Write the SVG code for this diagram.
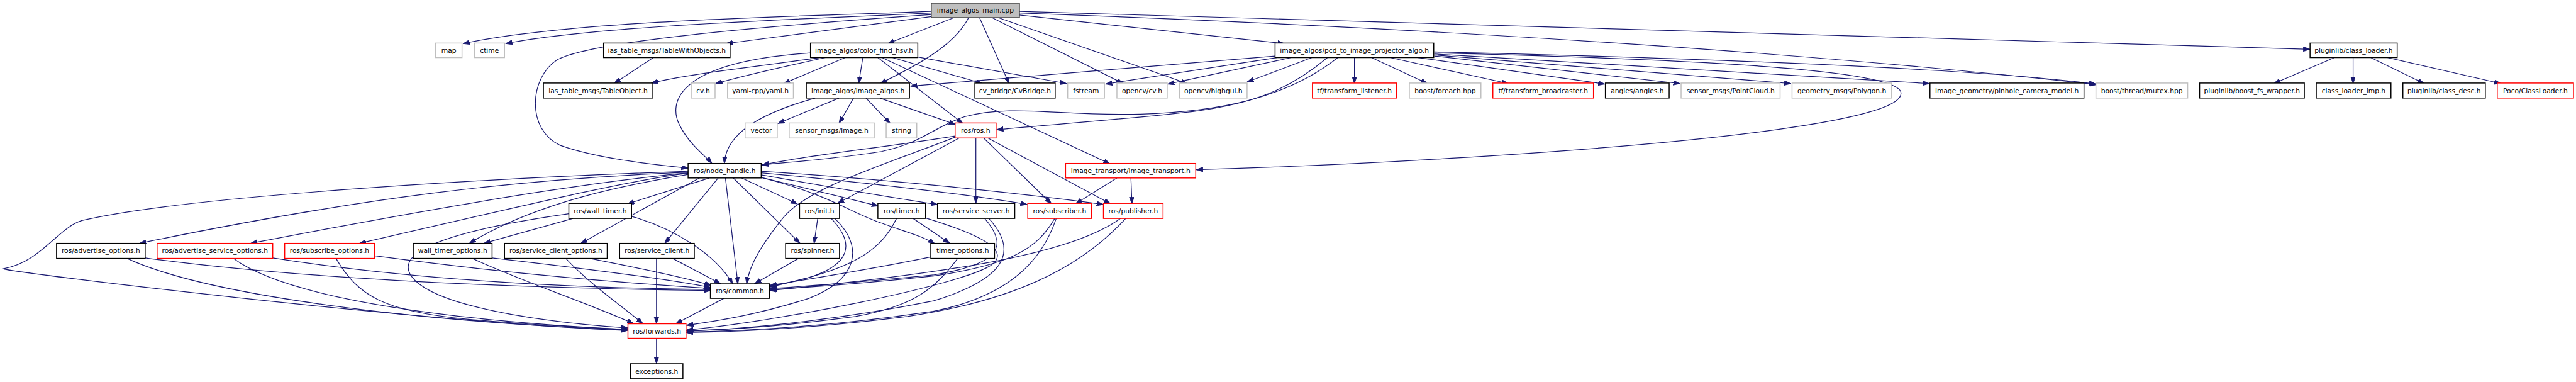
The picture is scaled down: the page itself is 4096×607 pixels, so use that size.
<svg xmlns="http://www.w3.org/2000/svg" width="4096" height="607" viewBox="0 0 4096 607">
<style>
.e{fill:none;stroke:#191970;stroke-width:1.5;marker-end:url(#ah)}
.n rect{fill:#fff;stroke-width:1.8}
.b rect{stroke:#000}
.r rect{stroke:#ff0000}
.g rect{stroke:#bfbfbf}
.m rect{fill:#bfbfbf;stroke:#404040}
text{font-family:"DejaVu Sans","Liberation Sans",sans-serif;font-size:13px;text-anchor:middle;fill:#000}
</style>
<defs>
<marker id="ah" markerUnits="userSpaceOnUse" markerWidth="14" markerHeight="10" refX="13" refY="4.5" orient="auto"><path d="M0,0 L13,4.5 L0,9 z" fill="#191970" stroke="#191970" stroke-width="1"/></marker>
</defs>
<rect width="4096" height="607" fill="#fff"/>
<g transform="scale(0.8245)">
<g id="connectors">
<path class="e" d="M1796,22 C1500,33 1100,40 893,84"/>
<path class="e" d="M1796,25 C1520,38 1150,50 975,84"/>
<path class="e" d="M1796,28 C1450,52 1140,80 1075,115 C1020,150 1015,250 1080,280 C1150,305 1250,316 1327,324"/>
<path class="e" d="M1796,32 L1400,84"/>
<path class="e" d="M1840,34 L1712,84"/>
<path class="e" d="M1868,34 C1840,90 1760,130 1697,161"/>
<path class="e" d="M1889,34 L1946,161"/>
<path class="e" d="M1913,34 L2166,161"/>
<path class="e" d="M1925,34 L2290,161"/>
<path class="e" d="M1966,29 L2477,84"/>
<path class="e" d="M1966,22 L4455,95"/>
<path class="e" d="M1966,25 Q3200,70 4044,163"/>
<path class="e" d="M1260,111 L1184,161"/>
<path class="e" d="M1580,111 C1450,130 1330,142 1256,160"/>
<path class="e" d="M1592,111 C1480,135 1420,150 1380,161"/>
<path class="e" d="M1630,111 L1511,161"/>
<path class="e" d="M1664,111 L1656,161"/>
<path class="e" d="M1693,111 L1857,238"/>
<path class="e" d="M1701,111 L2141,316"/>
<path class="e" d="M1721,111 L1895,161"/>
<path class="e" d="M1770,110 L2057,161"/>
<path class="e" d="M1563,102 C1300,120 1290,200 1310,240 C1330,280 1360,300 1373,315"/>
<path class="e" d="M1618,189 L1500,238"/>
<path class="e" d="M1646,189 L1618,238"/>
<path class="e" d="M1670,189 L1717,238"/>
<path class="e" d="M1697,189 L1843,240"/>
<path class="e" d="M1572,189 C1460,220 1400,260 1397,315"/>
<path class="e" d="M2459,108 L1756,166"/>
<path class="e" d="M2462,111 L2132,162"/>
<path class="e" d="M2490,111 L2252,162"/>
<path class="e" d="M2530,111 L2405,158"/>
<path class="e" d="M2560,111 C2490,170 2420,200 2300,215 C2150,232 2000,242 1922,250"/>
<path class="e" d="M2580,111 C2480,190 2350,215 2200,220 C2050,224 1950,200 1860,225 C1800,245 1780,275 1700,292 C1600,308 1520,312 1469,318"/>
<path class="e" d="M2612,111 L2612,161"/>
<path class="e" d="M2645,111 L2753,161"/>
<path class="e" d="M2681,111 L2909,161"/>
<path class="e" d="M2735,111 L3095,162"/>
<path class="e" d="M2766,108 L3240,161"/>
<path class="e" d="M2766,106 L3454,161"/>
<path class="e" d="M2766,104 L3721,161"/>
<path class="e" d="M2766,100 C3200,110 3800,130 4042,162"/>
<path class="e" d="M2766,102 C3300,115 3640,135 3665,175 C3690,230 3300,275 2800,305 C2600,317 2450,323 2307,327"/>
<path class="e" d="M4502,111 L4385,161"/>
<path class="e" d="M4538,111 L4538,161"/>
<path class="e" d="M4572,111 L4675,161"/>
<path class="e" d="M4604,111 L4823,161"/>
<path class="e" d="M1842,262 C1700,285 1550,300 1470,318"/>
<path class="e" d="M1850,266 L1615,392"/>
<path class="e" d="M1843,264 C1700,320 1560,360 1510,420 C1470,470 1445,510 1440,547"/>
<path class="e" d="M1882,266 L1882,392"/>
<path class="e" d="M1897,266 L2028,393"/>
<path class="e" d="M1905,266 L2142,393"/>
<path class="e" d="M2154,343 L2074,393"/>
<path class="e" d="M2181,343 L2183,393"/>
<path class="e" d="M1327,332 C1000,345 700,380 269,469"/>
<path class="e" d="M1327,330 C900,345 350,380 158,425 C110,440 80,505 6,518 C20,525 800,620 1210,637"/>
<path class="e" d="M1327,333 C1200,345 1000,370 483,469"/>
<path class="e" d="M1327,334 C1230,345 1100,375 693,469"/>
<path class="e" d="M1327,336 C1250,350 1050,380 905,469"/>
<path class="e" d="M1349,343 L1120,469"/>
<path class="e" d="M1368,343 L1210,393"/>
<path class="e" d="M1385,343 L1282,469"/>
<path class="e" d="M1399,343 L1423,547"/>
<path class="e" d="M1414,343 L1543,469"/>
<path class="e" d="M1430,343 L1538,393"/>
<path class="e" d="M1464,341 L1694,397"/>
<path class="e" d="M1467,342 C1600,375 1640,410 1700,430 C1740,445 1780,455 1803,470"/>
<path class="e" d="M1468,337 C1600,360 1700,378 1808,394"/>
<path class="e" d="M1468,333 C1650,350 1850,372 1981,394"/>
<path class="e" d="M1468,330 C1700,345 1950,370 2128,394"/>
<path class="e" d="M1105,421 L933,469"/>
<path class="e" d="M1218,417 C1300,440 1380,490 1413,547"/>
<path class="e" d="M1097,412 C900,440 740,480 800,540 C860,600 1100,625 1211,632"/>
<path class="e" d="M280,497 C600,540 1000,555 1370,560"/>
<path class="e" d="M245,498 C400,570 800,620 1211,636"/>
<path class="e" d="M526,497 C800,540 1100,555 1370,558"/>
<path class="e" d="M450,498 C560,580 900,620 1211,635"/>
<path class="e" d="M722,493 C1000,530 1200,545 1370,556"/>
<path class="e" d="M648,498 C690,570 740,600 900,615 C1050,628 1150,632 1211,635"/>
<path class="e" d="M949,497 C1150,520 1300,540 1370,554"/>
<path class="e" d="M911,498 C1000,540 1150,590 1222,624"/>
<path class="e" d="M1137,498 C1250,520 1320,535 1372,550"/>
<path class="e" d="M1091,498 C1140,550 1200,590 1240,624"/>
<path class="e" d="M1266,498 L1266,624"/>
<path class="e" d="M1297,498 L1390,547"/>
<path class="e" d="M1540,498 L1455,547"/>
<path class="e" d="M1577,421 L1570,469"/>
<path class="e" d="M1603,421 C1650,470 1640,510 1560,535 C1520,545 1500,550 1485,553"/>
<path class="e" d="M1610,421 C1670,480 1650,540 1560,575 C1450,610 1370,620 1324,627"/>
<path class="e" d="M1761,421 L1832,469"/>
<path class="e" d="M1729,421 C1700,480 1650,520 1485,552"/>
<path class="e" d="M1785,420 C1900,455 1950,485 1910,512 C1850,550 1500,620 1324,636"/>
<path class="e" d="M1899,421 C1950,480 1920,510 1800,530 C1650,545 1550,552 1485,556"/>
<path class="e" d="M1907,421 C1970,490 1930,540 1800,580 C1600,620 1420,635 1324,638"/>
<path class="e" d="M2034,421 C2000,480 1950,510 1800,532 C1650,548 1540,555 1485,558"/>
<path class="e" d="M2037,421 C2010,500 1950,570 1800,600 C1600,630 1420,638 1324,640"/>
<path class="e" d="M2161,421 C2080,480 1900,520 1485,560"/>
<path class="e" d="M2171,421 C2080,520 1950,580 1750,610 C1550,635 1400,640 1324,641"/>
<path class="e" d="M1796,495 C1700,515 1550,540 1485,550"/>
<path class="e" d="M1847,498 C1800,560 1760,590 1650,610 C1500,630 1400,636 1324,637"/>
<path class="e" d="M1396,575 L1303,624"/>
<path class="e" d="M1266,652 L1266,701"/>
</g>
<g id="n_main" class="n m"><rect x="1796" y="6" width="170" height="28"/><text x="1881" y="24.5">image_algos_main.cpp</text></g>
<g id="n_map" class="n g"><rect x="840" y="83" width="51" height="28"/><text x="865.5" y="101.5">map</text></g>
<g id="n_ctime" class="n g"><rect x="915" y="83" width="58" height="28"/><text x="944" y="101.5">ctime</text></g>
<g id="n_twobj" class="n b"><rect x="1164" y="83" width="244" height="28"/><text x="1286" y="101.5">ias_table_msgs/TableWithObjects.h</text></g>
<g id="n_cfh" class="n b"><rect x="1563" y="83" width="207" height="28"/><text x="1666.5" y="101.5">image_algos/color_find_hsv.h</text></g>
<g id="n_pcd" class="n b"><rect x="2459" y="83" width="306" height="28"/><text x="2612" y="101.5">image_algos/pcd_to_image_projector_algo.h</text></g>
<g id="n_cl" class="n b"><rect x="4455" y="83" width="168" height="28"/><text x="4539" y="101.5">pluginlib/class_loader.h</text></g>
<g id="n_tobj" class="n b"><rect x="1048" y="160" width="211" height="29"/><text x="1153.5" y="179">ias_table_msgs/TableObject.h</text></g>
<g id="n_cvh" class="n g"><rect x="1333" y="160" width="46" height="29"/><text x="1356" y="179">cv.h</text></g>
<g id="n_yaml" class="n g"><rect x="1403" y="160" width="127" height="29"/><text x="1466.5" y="179">yaml-cpp/yaml.h</text></g>
<g id="n_ia" class="n b"><rect x="1555" y="160" width="199" height="29"/><text x="1654.5" y="179">image_algos/image_algos.h</text></g>
<g id="n_cvb" class="n b"><rect x="1880" y="160" width="155" height="29"/><text x="1957.5" y="179">cv_bridge/CvBridge.h</text></g>
<g id="n_fstream" class="n g"><rect x="2059" y="160" width="71" height="29"/><text x="2094.5" y="179">fstream</text></g>
<g id="n_ocv" class="n g"><rect x="2154" y="160" width="97" height="29"/><text x="2202.5" y="179">opencv/cv.h</text></g>
<g id="n_hg" class="n g"><rect x="2275" y="160" width="130" height="29"/><text x="2340" y="179">opencv/highgui.h</text></g>
<g id="n_tfl" class="n r"><rect x="2531" y="160" width="162" height="29"/><text x="2612" y="179">tf/transform_listener.h</text></g>
<g id="n_bfe" class="n g"><rect x="2718" y="160" width="138" height="29"/><text x="2787" y="179">boost/foreach.hpp</text></g>
<g id="n_tfb" class="n r"><rect x="2879" y="160" width="194" height="29"/><text x="2976" y="179">tf/transform_broadcaster.h</text></g>
<g id="n_ang" class="n b"><rect x="3096" y="160" width="123" height="29"/><text x="3157.5" y="179">angles/angles.h</text></g>
<g id="n_pc" class="n g"><rect x="3242" y="160" width="191" height="29"/><text x="3337.5" y="179">sensor_msgs/PointCloud.h</text></g>
<g id="n_poly" class="n g"><rect x="3456" y="160" width="192" height="29"/><text x="3552" y="179">geometry_msgs/Polygon.h</text></g>
<g id="n_pin" class="n b"><rect x="3722" y="160" width="297" height="29"/><text x="3870.5" y="179">image_geometry/pinhole_camera_model.h</text></g>
<g id="n_mtx" class="n g"><rect x="4042" y="160" width="177" height="29"/><text x="4130.5" y="179">boost/thread/mutex.hpp</text></g>
<g id="n_bfs" class="n b"><rect x="4242" y="160" width="202" height="29"/><text x="4343" y="179">pluginlib/boost_fs_wrapper.h</text></g>
<g id="n_cli" class="n b"><rect x="4467" y="160" width="144" height="29"/><text x="4539" y="179">class_loader_imp.h</text></g>
<g id="n_cd" class="n b"><rect x="4634" y="160" width="159" height="29"/><text x="4713.5" y="179">pluginlib/class_desc.h</text></g>
<g id="n_poco" class="n r"><rect x="4816" y="160" width="147" height="29"/><text x="4889.5" y="179">Poco/ClassLoader.h</text></g>
<g id="n_vector" class="n g"><rect x="1437" y="237" width="62" height="29"/><text x="1468" y="256">vector</text></g>
<g id="n_simg" class="n g"><rect x="1522" y="237" width="164" height="29"/><text x="1604" y="256">sensor_msgs/Image.h</text></g>
<g id="n_string" class="n g"><rect x="1709" y="237" width="59" height="29"/><text x="1738.5" y="256">string</text></g>
<g id="n_ros" class="n r"><rect x="1842" y="237" width="79" height="29"/><text x="1881.5" y="256">ros/ros.h</text></g>
<g id="n_nh" class="n b"><rect x="1327" y="315" width="141" height="28"/><text x="1397.5" y="333.5">ros/node_handle.h</text></g>
<g id="n_it" class="n r"><rect x="2055" y="315" width="251" height="28"/><text x="2180.5" y="333.5">image_transport/image_transport.h</text></g>
<g id="n_wt" class="n b"><rect x="1097" y="392" width="121" height="29"/><text x="1157.5" y="411">ros/wall_timer.h</text></g>
<g id="n_init" class="n b"><rect x="1542" y="392" width="77" height="29"/><text x="1580.5" y="411">ros/init.h</text></g>
<g id="n_timer" class="n b"><rect x="1693" y="392" width="92" height="29"/><text x="1739" y="411">ros/timer.h</text></g>
<g id="n_ss" class="n b"><rect x="1808" y="392" width="149" height="29"/><text x="1882.5" y="411">ros/service_server.h</text></g>
<g id="n_sub" class="n r"><rect x="1982" y="392" width="123" height="29"/><text x="2043.5" y="411">ros/subscriber.h</text></g>
<g id="n_pub" class="n r"><rect x="2128" y="392" width="115" height="29"/><text x="2185.5" y="411">ros/publisher.h</text></g>
<g id="n_ao" class="n b"><rect x="109" y="469" width="171" height="29"/><text x="194.5" y="488">ros/advertise_options.h</text></g>
<g id="n_aso" class="n r"><rect x="303" y="469" width="223" height="29"/><text x="414.5" y="488">ros/advertise_service_options.h</text></g>
<g id="n_so" class="n r"><rect x="549" y="469" width="173" height="29"/><text x="635.5" y="488">ros/subscribe_options.h</text></g>
<g id="n_wto" class="n b"><rect x="797" y="469" width="152" height="29"/><text x="873" y="488">wall_timer_options.h</text></g>
<g id="n_sco" class="n b"><rect x="973" y="469" width="198" height="29"/><text x="1072" y="488">ros/service_client_options.h</text></g>
<g id="n_sc" class="n b"><rect x="1195" y="469" width="144" height="29"/><text x="1267" y="488">ros/service_client.h</text></g>
<g id="n_spin" class="n b"><rect x="1515" y="469" width="104" height="29"/><text x="1567" y="488">ros/spinner.h</text></g>
<g id="n_to" class="n b"><rect x="1795" y="469" width="123" height="29"/><text x="1856.5" y="488">timer_options.h</text></g>
<g id="n_common" class="n b"><rect x="1370" y="547" width="114" height="28"/><text x="1427" y="565.5">ros/common.h</text></g>
<g id="n_fwd" class="n r"><rect x="1211" y="624" width="112" height="28"/><text x="1267" y="642.5">ros/forwards.h</text></g>
<g id="n_exc" class="n b"><rect x="1216" y="701" width="101" height="29"/><text x="1266.5" y="720">exceptions.h</text></g>
</g>
</svg>
